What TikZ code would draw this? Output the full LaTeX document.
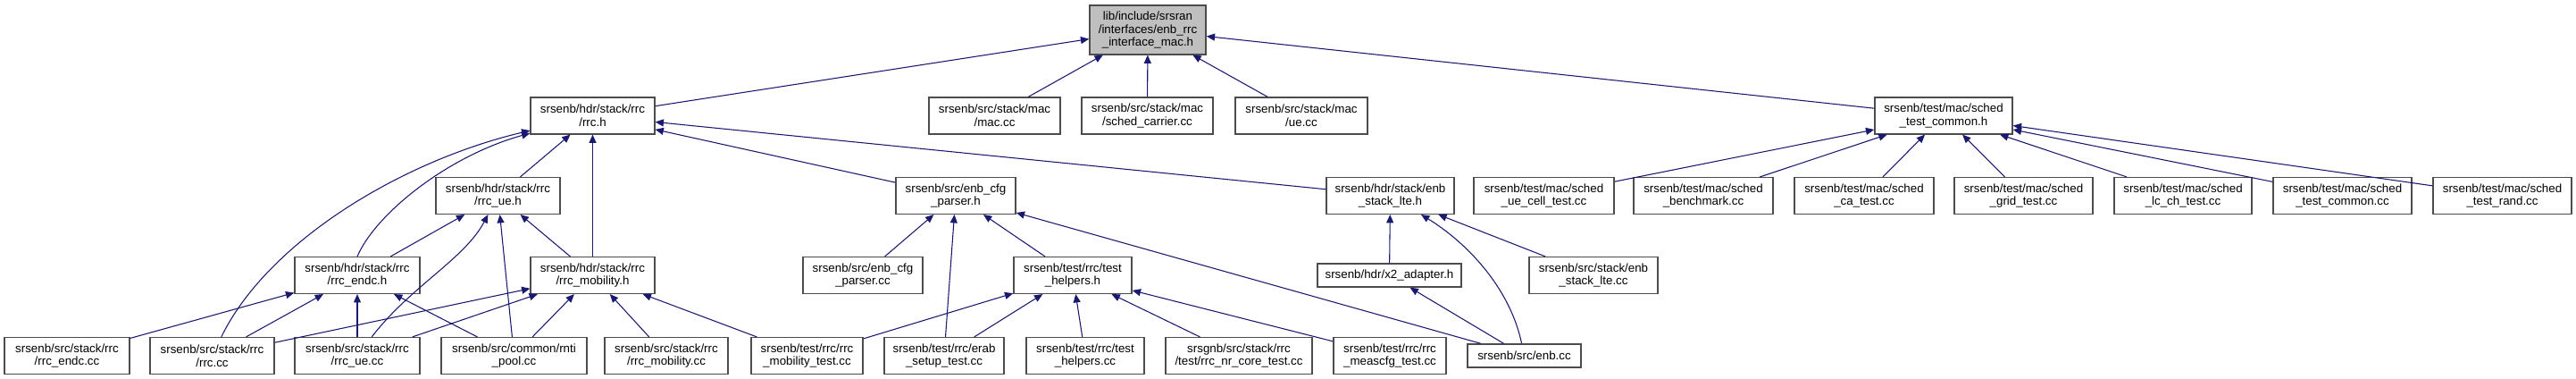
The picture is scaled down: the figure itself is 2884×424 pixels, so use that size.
\documentclass[tikz,border=0pt]{standalone}
\usepackage{fontspec}
\setmainfont{Liberation Sans}
\usetikzlibrary{arrows.meta}
\definecolor{elszin}{RGB}{25,25,112}
\tikzset{
  fajl/.style={draw=black!70,line width=1.1pt,fill=white,align=center,inner xsep=3pt,inner ysep=2pt,
               font=\fontsize{10}{11}\selectfont,minimum height=30.5pt},
  fofajl/.style={fajl,fill=black!25,minimum height=41pt},
  egysor/.style={minimum height=19.5pt},
  fuggo/.style={draw=elszin,line width=0.8pt,-{Triangle[length=7pt,width=6pt]}},
}
\begin{document}
\begin{tikzpicture}[x=0.75pt,y=-0.75pt]
  \useasboundingbox (0,0) rectangle (2884,424);
  \node[fofajl,minimum width=97.5pt] (gy) at (1285,33.5) {lib/include/srsran\\/interfaces/enb\_rrc\\\_interface\_mac.h};

  \node[fajl,minimum width=104pt] (rrch) at (663.5,129.5) {srsenb/hdr/stack/rrc\\/rrc.h};
  \node[fajl,minimum width=110pt] (macc) at (1113.5,129.5) {srsenb/src/stack/mac\\/mac.cc};
  \node[fajl,minimum width=110pt] (schedcar) at (1284.5,129.5) {srsenb/src/stack/mac\\/sched\_carrier.cc};
  \node[fajl,minimum width=111pt] (uecc) at (1457,129.5) {srsenb/src/stack/mac\\/ue.cc};
  \node[fajl,minimum width=115.5pt] (stch) at (2176,129.5) {srsenb/test/mac/sched\\\_test\_common.h};

  \node[fajl,minimum width=104pt] (rrcueh) at (557.5,219) {srsenb/hdr/stack/rrc\\/rrc\_ue.h};
  \node[fajl,minimum width=100.5pt] (cfgh) at (1070,219) {srsenb/src/enb\_cfg\\\_parser.h};
  \node[fajl,minimum width=107pt] (stackh) at (1556.5,219) {srsenb/hdr/stack/enb\\\_stack\_lte.h};
  \node[fajl,minimum width=118pt] (uecell) at (1728.5,219) {srsenb/test/mac/sched\\\_ue\_cell\_test.cc};
  \node[fajl,minimum width=117pt] (bench) at (1907,219) {srsenb/test/mac/sched\\\_benchmark.cc};
  \node[fajl,minimum width=117pt] (catest) at (2087,219) {srsenb/test/mac/sched\\\_ca\_test.cc};
  \node[fajl,minimum width=116pt] (grid) at (2265.5,219) {srsenb/test/mac/sched\\\_grid\_test.cc};
  \node[fajl,minimum width=115.5pt] (lcch) at (2444,219) {srsenb/test/mac/sched\\\_lc\_ch\_test.cc};
  \node[fajl,minimum width=116pt] (tcommon) at (2622.5,219) {srsenb/test/mac/sched\\\_test\_common.cc};
  \node[fajl,minimum width=116pt] (trand) at (2801.5,219) {srsenb/test/mac/sched\\\_test\_rand.cc};

  \node[fajl,minimum width=105pt] (endch) at (400,308) {srsenb/hdr/stack/rrc\\/rrc\_endc.h};
  \node[fajl,minimum width=104pt] (mobh) at (663.5,308) {srsenb/hdr/stack/rrc\\/rrc\_mobility.h};
  \node[fajl,minimum width=100.5pt] (cfgcc) at (966,308) {srsenb/src/enb\_cfg\\\_parser.cc};
  \node[fajl,minimum width=99pt] (helph) at (1201,308) {srsenb/test/rrc/test\\\_helpers.h};
  \node[fajl,egysor,minimum width=121pt] (x2h) at (1555.5,308) {srsenb/hdr/x2\_adapter.h};
  \node[fajl,minimum width=108pt] (stackcc) at (1784,308) {srsenb/src/stack/enb\\\_stack\_lte.cc};

  \node[fajl,minimum width=105pt] (endccc) at (75,398) {srsenb/src/stack/rrc\\/rrc\_endc.cc};
  \node[fajl,minimum width=104pt] (rrccc) at (237.5,398) {srsenb/src/stack/rrc\\/rrc.cc};
  \node[fajl,minimum width=105pt] (rrcuecc) at (400,398) {srsenb/src/stack/rrc\\/rrc\_ue.cc};
  \node[fajl,minimum width=122pt] (rnti) at (575.5,398) {srsenb/src/common/rnti\\\_pool.cc};
  \node[fajl,minimum width=103.5pt] (mobcc) at (746,398) {srsenb/src/stack/rrc\\/rrc\_mobility.cc};
  \node[fajl,minimum width=94pt] (mobtest) at (903.5,398) {srsenb/test/rrc/rrc\\\_mobility\_test.cc};
  \node[fajl,minimum width=100.5pt] (erab) at (1057,398) {srsenb/test/rrc/erab\\\_setup\_test.cc};
  \node[fajl,minimum width=99pt] (helpcc) at (1215,398) {srsenb/test/rrc/test\\\_helpers.cc};
  \node[fajl,minimum width=123pt] (nrcore) at (1387,398) {srsgnb/src/stack/rrc\\/test/rrc\_nr\_core\_test.cc};
  \node[fajl,minimum width=94.5pt] (meas) at (1556,398) {srsenb/test/rrc/rrc\\\_meascfg\_test.cc};
  \node[fajl,egysor,minimum width=95pt] (enbcc) at (1706.5,398) {srsenb/src/enb.cc};

  \draw[fuggo] (rrch) -- (gy);
  \draw[fuggo] (macc) -- (gy);
  \draw[fuggo] (schedcar) -- (gy);
  \draw[fuggo] (uecc) -- (gy);
  \draw[fuggo] (stch) -- (gy);

  \draw[fuggo] (rrcueh) -- (rrch);
  \draw[fuggo] (mobh) -- (rrch);
  \draw[fuggo] (endch.north) .. controls (420,240) and (500,175) .. (rrch);
  \draw[fuggo] (rrccc) .. controls (300,270) and (450,180) .. (rrch);
  \draw[fuggo] (cfgh) -- (rrch);
  \draw[fuggo] (stackh) -- (rrch);

  \draw[fuggo] (endch) -- (rrcueh);
  \draw[fuggo] (mobh) -- (rrcueh);
  \draw[fuggo] (rrcuecc) .. controls (460,320) and (520,290) .. (rrcueh);
  \draw[fuggo] (rnti) -- (rrcueh);

  \draw[fuggo] (endccc) -- (endch);
  \draw[fuggo] (rrccc) -- (endch);
  \draw[fuggo] (rrcuecc) -- (endch);
  \draw[fuggo] (rnti) -- (endch);

  \draw[fuggo] (rrccc) -- (mobh);
  \draw[fuggo] (rrcuecc) -- (mobh);
  \draw[fuggo] (rnti) -- (mobh);
  \draw[fuggo] (mobcc) -- (mobh);
  \draw[fuggo] (mobtest) -- (mobh);

  \draw[fuggo] (cfgcc) -- (cfgh);
  \draw[fuggo] (erab) -- (cfgh);
  \draw[fuggo] (helph) -- (cfgh);
  \draw[fuggo] (enbcc) -- (cfgh);

  \draw[fuggo] (mobtest) -- (helph);
  \draw[fuggo] (erab) -- (helph);
  \draw[fuggo] (helpcc) -- (helph);
  \draw[fuggo] (nrcore) -- (helph);
  \draw[fuggo] (meas) -- (helph);

  \draw[fuggo] (x2h) -- (stackh);
  \draw[fuggo] (enbcc) .. controls (1690,320) and (1640,270) .. (stackh);
  \draw[fuggo] (stackcc) -- (stackh);
  \draw[fuggo] (enbcc) -- (x2h);

  \draw[fuggo] (uecell) -- (stch);
  \draw[fuggo] (bench) -- (stch);
  \draw[fuggo] (catest) -- (stch);
  \draw[fuggo] (grid) -- (stch);
  \draw[fuggo] (lcch) -- (stch);
  \draw[fuggo] (tcommon) -- (stch);
  \draw[fuggo] (trand) -- (stch);
\end{tikzpicture}
\end{document}
